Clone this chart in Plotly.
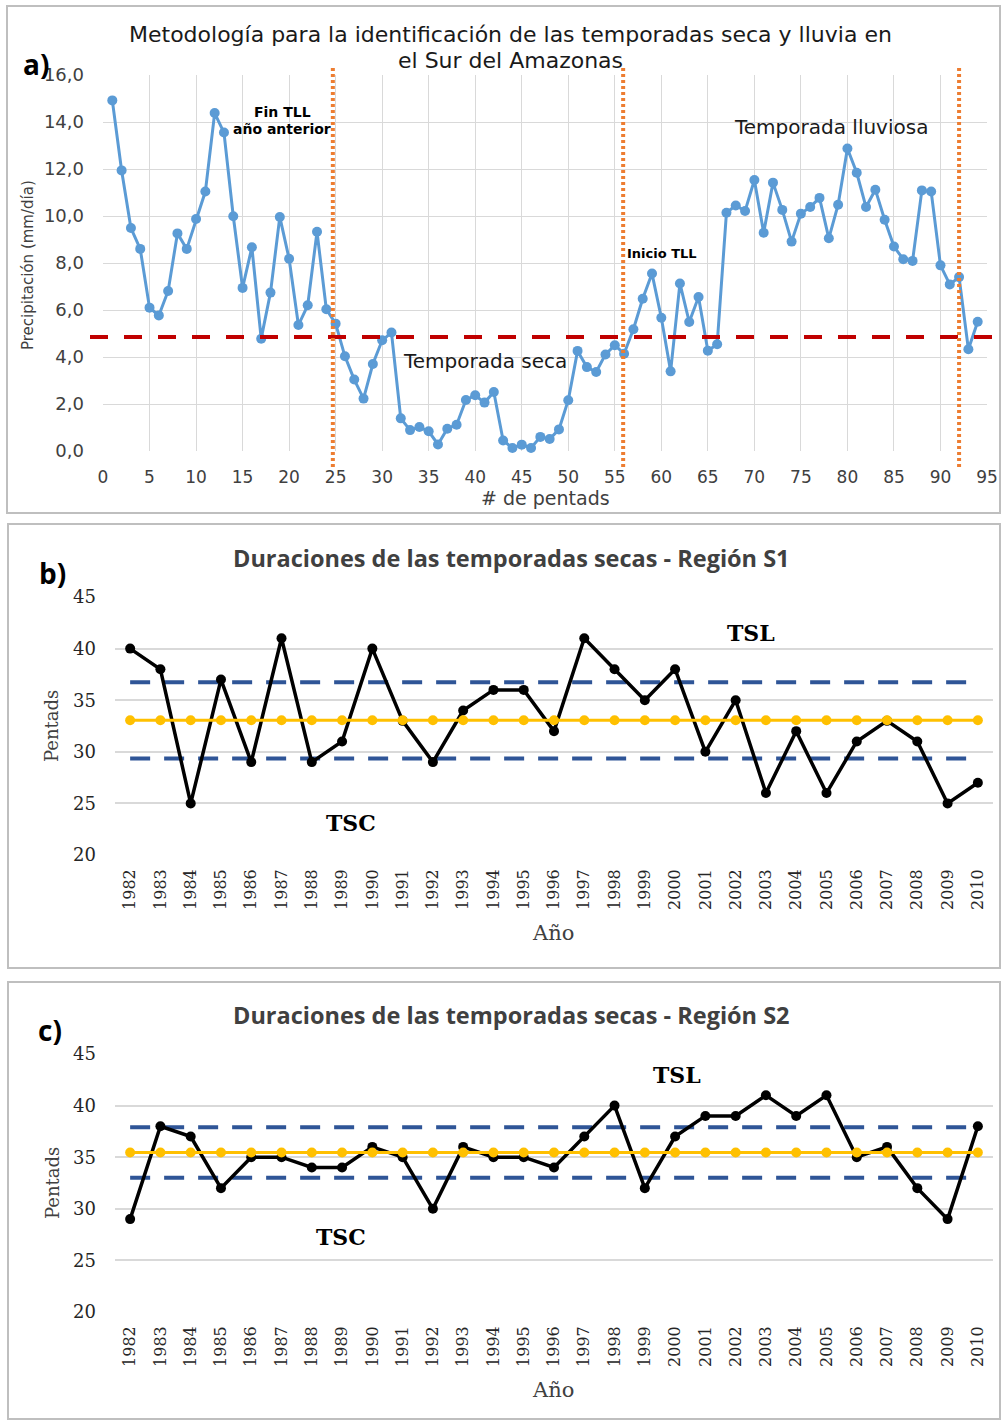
import plotly.graph_objects as go

W, H = 1003, 1421

# ---------------- data ----------------
pentads = list(range(1, 95))
precip = [14.92, 11.94, 9.49, 8.60, 6.10, 5.77, 6.81, 9.26, 8.60, 9.87,
          11.04, 14.38, 13.55, 9.99, 6.94, 8.67, 4.78, 6.74, 9.96, 8.18,
          5.36, 6.20, 9.33, 6.03, 5.42, 4.03, 3.04, 2.23, 3.70, 4.71,
          5.04, 1.39, 0.89, 1.02, 0.84, 0.28, 0.95, 1.12, 2.17, 2.37,
          2.06, 2.51, 0.45, 0.13, 0.27, 0.13, 0.60, 0.51, 0.92, 2.16,
          4.26, 3.57, 3.36, 4.11, 4.50, 4.14, 5.18, 6.48, 7.55, 5.67,
          3.39, 7.13, 5.49, 6.55, 4.27, 4.54, 10.14, 10.45, 10.21, 11.53,
          9.29, 11.42, 10.26, 8.91, 10.10, 10.38, 10.77, 9.05, 10.48, 12.87,
          11.84, 10.38, 11.12, 9.84, 8.70, 8.16, 8.09, 11.09, 11.04, 7.90,
          7.09, 7.40, 4.33, 5.50]
threshold = 4.85
season_marks = [24.7, 55.9, 92]
a_xticks = list(range(0, 96, 5))
a_yticks = list(range(0, 17, 2))

years = list(range(1982, 2011))
year_labels = [str(y) for y in years]
s1 = [40, 38, 25, 37, 29, 41, 29, 31, 40, 33, 29, 34, 36, 36, 32, 41, 38, 35, 38, 30,
      35, 26, 32, 26, 31, 33, 31, 25, 27]
s1_mean, s1_upper, s1_lower = 33.05, 36.75, 29.35
s2 = [29, 38, 37, 32, 35, 35, 34, 34, 36, 35, 30, 36, 35, 35, 34, 37, 40, 32, 37, 39,
      39, 41, 39, 41, 35, 36, 32, 29, 38]
s2_mean, s2_upper, s2_lower = 35.45, 37.9, 33.0
bc_yticks = [20, 25, 30, 35, 40, 45]


def px(x):
    return x / W


def py(y):
    return 1 - y / H


BLUE = "#5B9BD5"
RED = "#C00000"
ORANGE = "#ED7D31"
NAVY = "#2F5597"
GOLD = "#FFC000"
GRID = "#D9D9D9"
SANS = "DejaVu Sans"
SERIF = "DejaVu Serif"

fig = go.Figure()

# ---------------- panel a ----------------
fig.add_trace(go.Scatter(
    x=pentads, y=precip, mode="lines+markers",
    line=dict(color=BLUE, width=3), marker=dict(color=BLUE, size=10),
    xaxis="x", yaxis="y", showlegend=False, cliponaxis=False))


# ---------------- panels b, c ----------------
def add_duration(series, mean, upper, lower, xa, ya):
    for lvl in (upper, lower):
        fig.add_trace(go.Scatter(
            x=years, y=[lvl] * len(years), mode="lines",
            line=dict(color=NAVY, width=4, dash="20px,14px"),
            xaxis=xa, yaxis=ya, showlegend=False))
    fig.add_trace(go.Scatter(
        x=years, y=series, mode="lines+markers",
        line=dict(color="black", width=3.5), marker=dict(color="black", size=10),
        xaxis=xa, yaxis=ya, showlegend=False, cliponaxis=False))
    fig.add_trace(go.Scatter(
        x=years, y=[mean] * len(years), mode="lines+markers",
        line=dict(color=GOLD, width=3), marker=dict(color=GOLD, size=10),
        xaxis=xa, yaxis=ya, showlegend=False, cliponaxis=False))


add_duration(s1, s1_mean, s1_upper, s1_lower, "x2", "y2")
add_duration(s2, s2_mean, s2_upper, s2_lower, "x3", "y3")

shapes = []
# panel boxes
for (x0, y0, x1, y1) in [(7, 6, 1000, 513), (8, 524, 1000, 968), (8, 982, 1000, 1419)]:
    shapes.append(dict(type="rect", xref="paper", yref="paper",
                       x0=px(x0), x1=px(x1), y0=py(y0), y1=py(y1),
                       line=dict(color="#BFBFBF", width=2), fillcolor="rgba(0,0,0,0)",
                       layer="below"))
# threshold line
shapes.append(dict(type="line", xref="paper", yref="y",
                   x0=px(90), x1=px(995), y0=threshold, y1=threshold,
                   line=dict(color=RED, width=4, dash="18px,16px"), layer="above"))
# season boundaries
for xv in season_marks:
    shapes.append(dict(type="line", xref="x", yref="paper",
                       x0=xv, x1=xv, y0=py(467), y1=py(68),
                       line=dict(color=ORANGE, width=4, dash="3px,3px"), layer="above"))

ann = []


def text(x, y, s, size, family, color="black", bold=False, angle=0, xanchor="center"):
    if bold:
        s = "<b>" + s + "</b>"
    ann.append(dict(x=px(x), y=py(y), xref="paper", yref="paper", text=s,
                    showarrow=False, xanchor=xanchor, yanchor="middle",
                    textangle=angle, font=dict(size=size, family=family, color=color)))


# panel a texts
text(510, 35, "Metodología para la identificación de las temporadas seca y lluvia en", 22, SANS, "#1a1a1a")
text(510, 61, "el Sur del Amazonas", 22, SANS, "#1a1a1a")
text(36, 64, "a)", 28, "Open Sans", bold=True)
text(282, 112, "Fin TLL", 14, SANS, bold=True)
text(282, 129, "año anterior", 14, SANS, bold=True)
text(485, 361, "Temporada seca", 20, SANS, "#1a1a1a")
text(662, 254, "Inicio TLL", 13, SANS, bold=True)
text(831, 127, "Temporada lluviosa", 20, SANS, "#1a1a1a")
text(28, 265, "Precipitación (mm/día)", 15, SANS, "#404040", angle=-90)
text(545, 498, "# de pentads", 19, SANS, "#404040")

# panel b texts
text(512, 558, "Duraciones de las temporadas secas - Región S1", 23.5, "Open Sans", "#404040", bold=True)
text(52, 573, "b)", 28, "Open Sans", bold=True)
text(751, 633, "TSL", 22, SERIF, bold=True)
text(351, 823, "TSC", 22, SERIF, bold=True)
text(52, 726, "Pentads", 18, SERIF, "#404040", angle=-90)
text(553, 933, "Año", 21, SERIF, "#404040")

# panel c texts
text(512, 1015, "Duraciones de las temporadas secas - Región S2", 23.5, "Open Sans", "#404040", bold=True)
text(50, 1030, "c)", 28, "Open Sans", bold=True)
text(677, 1075, "TSL", 22, SERIF, bold=True)
text(341, 1237, "TSC", 22, SERIF, bold=True)
text(52, 1183, "Pentads", 18, SERIF, "#404040", angle=-90)
text(553, 1390, "Año", 21, SERIF, "#404040")

layout = dict(
    width=W, height=H, margin=dict(l=0, r=0, t=0, b=0, autoexpand=False),
    paper_bgcolor="white", plot_bgcolor="white",
    separators=",.",
    showlegend=False,
    shapes=shapes, annotations=ann,
    xaxis=dict(domain=[px(103), px(987)], anchor="y", range=[0, 95], automargin=False,
               tickvals=a_xticks, showgrid=True, gridcolor=GRID, gridwidth=1,
               zeroline=False, showline=False, ticks="", ticklabelstandoff=14,
               tickfont=dict(family=SANS, size=17, color="#404040")),
    yaxis=dict(domain=[py(451), py(75)], anchor="x", range=[0, 16], automargin=False,
               tickvals=a_yticks, tickformat=".1f", showgrid=True, gridcolor=GRID,
               gridwidth=1, zeroline=False, showline=False, ticks="",
               ticklabelstandoff=18,
               tickfont=dict(family=SANS, size=18, color="#404040")),
)

for xa, ya, ytop, ybot in [("xaxis2", "yaxis2", 597, 855), ("xaxis3", "yaxis3", 1054, 1312)]:
    yname = ya.replace("axis", "")
    xname = xa.replace("axis", "")
    layout[xa] = dict(domain=[px(115), px(993)], anchor=yname, range=[1981.5, 2010.5],
                      automargin=False,
                      tickvals=years, ticktext=year_labels, tickangle=-90,
                      showgrid=False, zeroline=False, showline=False, ticks="",
                      ticklabelstandoff=10,
                      tickfont=dict(family=SERIF, size=16, color="#262626"))
    layout[ya] = dict(domain=[py(ybot), py(ytop)], anchor=xname, range=[20, 45],
                      automargin=False,
                      tickvals=bc_yticks, showgrid=True, gridcolor=GRID, gridwidth=1.5,
                      zeroline=False, showline=False, ticks="", ticklabelstandoff=18,
                      tickfont=dict(family=SERIF, size=18, color="#262626"))

fig.update_layout(**layout)
fig.write_html("out.html", config={"displayModeBar": False},
               post_script="document.body.style.margin='0';document.body.style.padding='0';"
                           "document.documentElement.style.overflow='hidden';")
